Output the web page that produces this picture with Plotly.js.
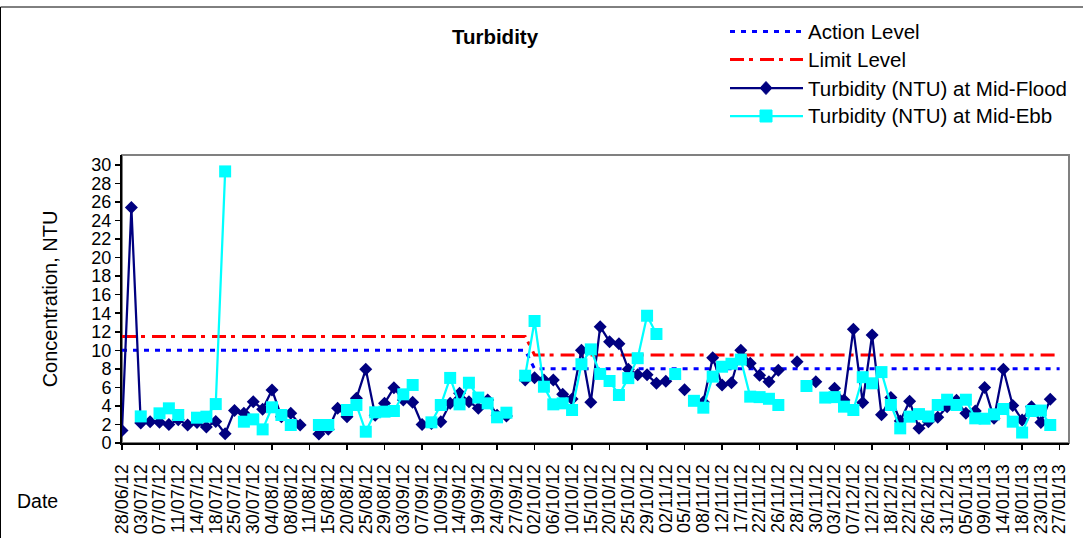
<!DOCTYPE html>
<html>
<head>
<meta charset="utf-8">
<script src="https://cdn.plot.ly/plotly-3.0.1.min.js"></script>
<style>
  html, body { margin: 0; padding: 0; background: #fff; }
  #chart { width: 1083px; height: 538px; }
</style>
</head>
<body>
<div id="chart"></div>
<script>
// ---- Data (category positions: 101 sampling dates, every 2nd one labelled) ----
const dateLabels = ['28/06/12','03/07/12','07/07/12','11/07/12','14/07/12','18/07/12','25/07/12','30/07/12',
  '04/08/12','08/08/12','11/08/12','15/08/12','20/08/12','25/08/12','29/08/12','03/09/12','07/09/12',
  '10/09/12','14/09/12','19/09/12','24/09/12','27/09/12','02/10/12','06/10/12','10/10/12','15/10/12',
  '20/10/12','25/10/12','29/10/12','02/11/12','05/11/12','08/11/12','12/11/12','17/11/12','22/11/12',
  '26/11/12','28/11/12','30/11/12','03/12/12','07/12/12','12/12/12','18/12/12','22/12/12','26/12/12',
  '31/12/12','05/01/13','09/01/13','14/01/13','18/01/13','23/01/13','27/01/13'];

const midFlood = [1.35,25.4,2.15,2.3,2.25,2.0,2.5,1.94,2.2,1.72,
  2.33,1.0,3.5,3.2,4.46,3.65,5.72,2.84,3.2,1.94,
  null,0.97,1.47,3.74,2.84,4.82,7.95,3.0,4.28,5.95,
  4.64,4.39,2.0,2.1,2.3,4.28,5.36,4.46,3.74,4.64,
  3.0,2.9,null,6.8,7.05,6.8,6.8,5.25,4.75,10.0,
  4.4,12.55,10.93,10.7,7.95,7.35,7.35,6.44,6.65,null,
  5.75,null,4.43,9.2,6.26,6.5,10.0,8.6,7.3,6.62,
  7.85,null,8.77,null,6.6,null,5.9,4.64,12.28,4.37,
  11.65,3.05,4.9,2.37,4.5,1.58,2.3,2.78,3.92,4.6,
  3.2,3.45,6.0,2.66,7.95,4.05,2.48,3.92,2.22,4.71,
  null];

const midEbb = [null,null,2.87,null,3.2,3.74,3.02,null,2.73,2.84,
  4.2,29.3,null,2.3,2.55,1.47,3.85,3.02,1.94,null,
  null,1.94,1.94,null,3.56,4.1,1.22,3.31,3.38,3.45,
  5.25,6.26,null,2.23,4.1,7.02,4.17,6.5,4.9,4.28,
  2.77,3.27,null,7.26,13.16,6.07,4.17,4.28,3.56,8.5,
  10.1,7.45,6.69,5.18,7.0,9.15,13.73,11.76,null,7.44,
  null,4.55,3.81,7.16,8.23,8.55,9.0,5.0,4.95,4.77,
  4.1,null,null,6.15,null,4.9,4.95,3.92,3.56,7.1,
  6.44,7.65,4.1,1.58,2.84,3.12,2.86,4.1,4.67,4.1,
  4.67,2.66,2.62,3.09,3.67,2.3,1.13,3.45,3.5,1.94,
  null];

// Action / Limit levels: value changes between category 43 and 44
const levelX = [0, 43, 44, 100];
const actionLevel = [10, 10, 8, 8];
const limitLevel = [11.5, 11.5, 9.5, 9.5];

// ---- Build ----
const idx = midFlood.map((_, i) => i);
const labelPos = dateLabels.map((_, k) => 2 * k);
const tickPos = dateLabels.filter((_, k) => k % 2 === 0).map((_, k) => 4 * k);

const FONT = '"Liberation Sans", Arial, sans-serif';
const L = 122, R = 1069, T = 155, B = 443;
const px2x = p => (p - L) / (R - L);
const py2y = p => (B - p) / (B - T);

const traces = [
  { x: levelX, y: actionLevel, mode: 'lines', name: 'Action Level',
    line: { color: '#0000FF', width: 3, dash: '5px,6px' }, hoverinfo: 'skip' },
  { x: levelX, y: limitLevel, mode: 'lines', name: 'Limit Level',
    line: { color: '#FF0000', width: 3, dash: '14px,5px,4px,7px' }, hoverinfo: 'skip' },
  { x: idx, y: midFlood, mode: 'lines+markers', name: 'Turbidity (NTU) at Mid-Flood',
    line: { color: '#000080', width: 2.25 }, connectgaps: false,
    marker: { symbol: 'diamond', size: 10, color: '#000080' } },
  { x: idx, y: midEbb, mode: 'lines+markers', name: 'Turbidity (NTU) at Mid-Ebb',
    line: { color: '#00FFFF', width: 2.25 }, connectgaps: false,
    marker: { symbol: 'square', size: 12, color: '#00FFFF' } },
  { x: [0, 100], y: [null, null], xaxis: 'x2', yaxis: 'y', mode: 'lines',
    showlegend: false, hoverinfo: 'skip' }
];

// custom legend (long line samples as in the original)
const legendRows = [
  { py: 31.5, text: 'Action Level', color: '#0000FF', dash: '5px,6px', w: 3, marker: null },
  { py: 59.5, text: 'Limit Level', color: '#FF0000', dash: '14px,5px,4px,7px', w: 3, marker: null },
  { py: 88, text: 'Turbidity (NTU) at Mid-Flood', color: '#000080', dash: 'solid', w: 2.25, marker: 'diamond' },
  { py: 116, text: 'Turbidity (NTU) at Mid-Ebb', color: '#00FFFF', dash: 'solid', w: 2.25, marker: 'square' }
];
const shapes = [
  { type: 'rect', xref: 'paper', yref: 'paper', x0: 0, x1: 1, y0: 0, y1: 1,
    line: { color: '#808080', width: 2 }, layer: 'below' },
  // outer chart border (top and left)
  { type: 'line', xref: 'paper', yref: 'paper', x0: px2x(0.5), x1: px2x(1083), y0: py2y(7), y1: py2y(7),
    line: { color: '#000000', width: 1 } },
  { type: 'line', xref: 'paper', yref: 'paper', x0: px2x(0.5), x1: px2x(0.5), y0: py2y(7), y1: py2y(538),
    line: { color: '#000000', width: 1 } }
];
const annotations = [];
legendRows.forEach(r => {
  shapes.push({ type: 'line', xref: 'paper', yref: 'paper', x0: px2x(730), x1: px2x(803),
    y0: py2y(r.py), y1: py2y(r.py), line: { color: r.color, width: r.w, dash: r.dash } });
  if (r.marker === 'diamond') {
    shapes.push({ type: 'path', xref: 'paper', yref: 'paper', xsizemode: 'pixel', ysizemode: 'pixel',
      xanchor: px2x(766), yanchor: py2y(r.py), path: 'M0,6.5 L6,0 L0,-6.5 L-6,0 Z',
      fillcolor: r.color, line: { color: r.color, width: 1 } });
  } else if (r.marker === 'square') {
    shapes.push({ type: 'rect', xref: 'paper', yref: 'paper', xsizemode: 'pixel', ysizemode: 'pixel',
      xanchor: px2x(766), yanchor: py2y(r.py), x0: -6, x1: 6, y0: -6, y1: 6,
      fillcolor: r.color, line: { color: r.color, width: 1 } });
  }
  annotations.push({ xref: 'paper', yref: 'paper', x: px2x(806), y: py2y(r.py), xanchor: 'left',
    yanchor: 'middle', showarrow: false, text: r.text, font: { family: FONT, size: 20.5, color: '#000' } });
});
annotations.push({ xref: 'paper', yref: 'paper', x: px2x(37), y: py2y(501), xanchor: 'center',
  yanchor: 'middle', showarrow: false, text: 'Date', font: { family: FONT, size: 19.5, color: '#000' } });

const layout = {
  width: 1083, height: 538,
  margin: { l: L, r: 1083 - R, t: T, b: 538 - B, pad: 0 },
  paper_bgcolor: '#fff', plot_bgcolor: '#fff',
  showlegend: false,
  font: { family: FONT, color: '#000' },
  title: { text: '<b>Turbidity</b>', xref: 'container', yref: 'container',
    x: 495 / 1083, xanchor: 'center', y: 1 - 37 / 538, yanchor: 'middle',
    font: { family: FONT, size: 20.5, color: '#000' } },
  xaxis: {
    range: [0, 101], tickmode: 'array', tickvals: labelPos, ticktext: dateLabels,
    tickangle: -90, ticks: '', ticklabelstandoff: 12, tickfont: { family: FONT, size: 18, color: '#000' },
    showline: true, linecolor: '#000', linewidth: 2, showgrid: false, zeroline: false, fixedrange: true
  },
  xaxis2: {
    overlaying: 'x', anchor: 'y', side: 'bottom', range: [0, 101], tickmode: 'array', tickvals: tickPos,
    ticks: 'outside', ticklen: 6, tickwidth: 1.5, tickcolor: '#000', showticklabels: false,
    showline: false, showgrid: false, zeroline: false, fixedrange: true
  },
  yaxis: {
    range: [0, 31.07], tick0: 0, dtick: 2, ticks: 'outside', ticklen: 5, tickwidth: 1.5, tickcolor: '#000',
    tickfont: { family: FONT, size: 18, color: '#000' },
    showline: true, linecolor: '#000', linewidth: 2, showgrid: false, zeroline: false, fixedrange: true,
    title: { text: 'Concentration, NTU', font: { family: FONT, size: 20, color: '#000' }, standoff: 28 }
  },
  shapes: shapes,
  annotations: annotations
};

Plotly.newPlot('chart', traces, layout, { displayModeBar: false, staticPlot: true });
</script>
</body>
</html>
